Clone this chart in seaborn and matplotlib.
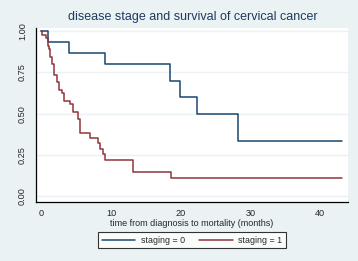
import numpy as np
import pandas as pd
import matplotlib
matplotlib.use("Agg")
import matplotlib.pyplot as plt
import seaborn as sns

# Kaplan-Meier estimates
blue_t = [0, 0.9, 4.0, 9.1, 18.5, 19.9, 22.4, 28.2, 43.2]
blue_s = [1.0, 0.933, 0.867, 0.80, 0.70, 0.60, 0.50, 0.333, 0.333]
red_t = [0, 0.1, 0.7, 0.9, 1.0, 1.1, 1.3, 1.5, 1.8, 2.2, 2.5, 2.9, 3.2, 4.1,
         4.5, 5.3, 5.5, 7.0, 8.1, 8.4, 8.9, 9.1, 13.1, 18.6, 43.2]
red_s = [1.0, 0.978, 0.956, 0.933, 0.911, 0.889, 0.844, 0.80, 0.733, 0.689,
         0.644, 0.622, 0.578, 0.556, 0.511, 0.467, 0.385, 0.351, 0.32, 0.286,
         0.254, 0.222, 0.148, 0.111, 0.111]
groups = ["staging = 0", "staging = 1"]
y_ticks = [0.0, 0.25, 0.5, 0.75, 1.0]
y_labels = ["0.00", "0.25", "0.50", "0.75", "1.00"]
x_ticks = [0, 10, 20, 30, 40]
title = "disease stage and survival of cervical cancer"
xlabel = "time from diagnosis to mortality (months)"

df = pd.concat([
    pd.DataFrame({"t": blue_t, "s": blue_s, "g": groups[0]}),
    pd.DataFrame({"t": red_t, "s": red_s, "g": groups[1]}),
])

sns.set_style("white")
plt.rcParams["font.family"] = ["Liberation Sans", "DejaVu Sans"]

bg = "#EAF2F3"
fig = plt.figure(figsize=(3.58, 2.61), dpi=100, facecolor=bg)
ax = fig.add_axes([0.1006, 0.226, 0.8714, 0.667])
ax.set_facecolor("white")

sns.lineplot(data=df, x="t", y="s", hue="g", estimator=None, sort=False,
             palette=["#1a476f", "#90353b"], drawstyle="steps-post",
             linewidth=1.1, ax=ax)

ax.set_xlim(-0.77, 44.0)
ax.set_ylim(-0.034, 1.018)
ax.set_yticks(y_ticks)
ax.set_yticklabels(y_labels, rotation=90, va="center", fontsize=6.6)
ax.set_xticks(x_ticks)
ax.set_xticklabels([str(v) for v in x_ticks], fontsize=6.6)
ax.tick_params(axis="y", direction="out", length=4.5, width=0.8,
               color="#555555", pad=2)
ax.tick_params(axis="x", direction="out", length=3.5, width=0.8,
               color="#555555", pad=1.5)
ax.grid(axis="y", color=bg, linewidth=1.0)
ax.grid(axis="x", visible=False)
for side in ["top", "right"]:
    ax.spines[side].set_visible(False)
for side in ["left", "bottom"]:
    ax.spines[side].set_color("black")
    ax.spines[side].set_linewidth(0.9)
ax.set_xlabel(xlabel, fontsize=6.5, labelpad=0.5)
ax.set_ylabel("")

fig.text(0.538, 0.936, title, ha="center", va="center", fontsize=9.0,
         color="#1e3a5f")

handles, labels = ax.get_legend_handles_labels()
ax.legend_.remove()
leg = fig.legend(handles, labels, loc="center", bbox_to_anchor=(0.536, 0.080),
                 ncol=2, fontsize=6.4, frameon=True, fancybox=False,
                 edgecolor="black", facecolor="white", handlelength=3.8,
                 columnspacing=1.6, borderpad=0.4, handletextpad=0.6,
                 borderaxespad=0)
leg.get_frame().set_linewidth(0.8)

fig.savefig("out.png", dpi=100, facecolor=bg)
